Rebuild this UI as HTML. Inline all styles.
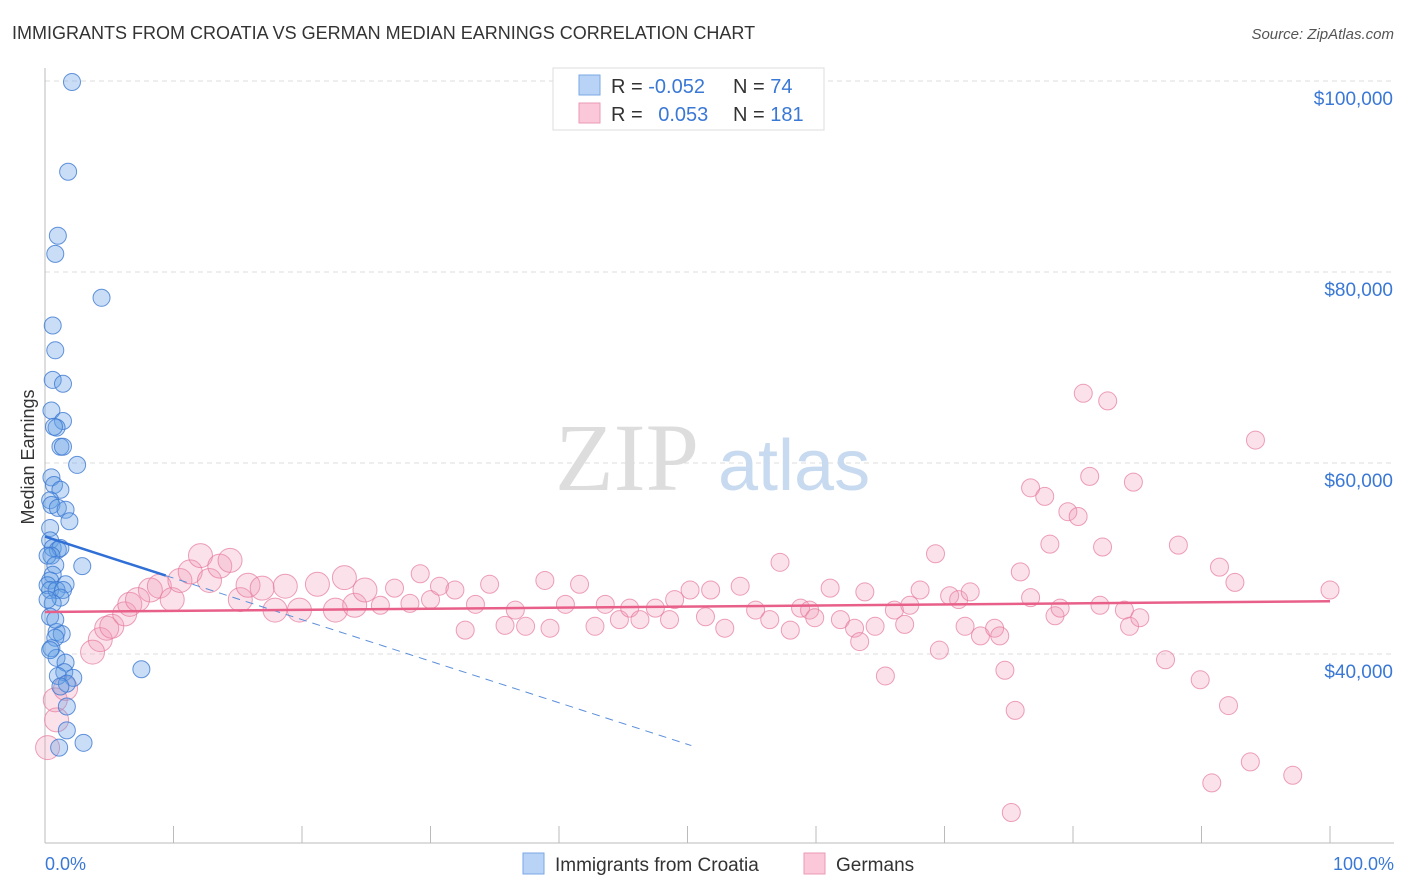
<!DOCTYPE html>
<html><head><meta charset="utf-8"><style>
body{margin:0;background:#fff;font-family:"Liberation Sans",sans-serif}
svg{display:block}
</style></head><body>
<svg id="chart" width="1406" height="892" xmlns="http://www.w3.org/2000/svg" font-family="Liberation Sans, sans-serif">
<text x="12" y="39" font-size="18" fill="#333">IMMIGRANTS FROM CROATIA VS GERMAN MEDIAN EARNINGS CORRELATION CHART</text>
<text x="1394" y="39" font-size="15" fill="#555" text-anchor="end" font-style="italic">Source: ZipAtlas.com</text>
<g id="grid"></g>
<text x="555" y="490" font-size="96" font-family="Liberation Serif, serif" fill="#ddd">ZIP</text>
<text x="718" y="490" font-size="72" fill="#c8daf0">atlas</text>
<line x1="45" y1="843" x2="1394" y2="843" stroke="#bbb"/>
<line x1="45" y1="68" x2="45" y2="843" stroke="#bbb"/>
<g id="xticks"></g>
<g id="yticks"></g>
<text transform="translate(34,457) rotate(-90)" font-size="18" fill="#333" text-anchor="middle">Median Earnings</text>
<text x="45" y="870" font-size="18" fill="#3a78d6">0.0%</text>
<text x="1394" y="870" font-size="18" fill="#3a78d6" text-anchor="end">100.0%</text>
<g id="pink"></g>
<g id="blue"></g>
<g id="trends"></g>
<g>
<rect x="553" y="68" width="271" height="62" fill="#fff" stroke="#ddd"/>
<rect x="579" y="75" width="21" height="20" fill="#b8d3f5" stroke="#7aa8e6"/>
<rect x="579" y="103" width="21" height="20" fill="#fac8d8" stroke="#ea9ab5"/>
<text x="611" y="93" font-size="20" fill="#333">R = <tspan fill="#3a78d6">-0.052</tspan></text>
<text x="733" y="93" font-size="20" fill="#333">N =  <tspan fill="#3a78d6">74</tspan></text>
<text x="611" y="121" font-size="20" fill="#333">R =  <tspan fill="#3a78d6" dx="10">0.053</tspan></text>
<text x="733" y="121" font-size="20" fill="#333">N = <tspan fill="#3a78d6">181</tspan></text>
</g>
<g>
<rect x="523" y="853" width="21" height="21" fill="#b8d3f5" stroke="#7aa8e6"/>
<text x="555" y="871" font-size="19" fill="#333">Immigrants from Croatia</text>
<rect x="804" y="853" width="21" height="21" fill="#fac8d8" stroke="#ea9ab5"/>
<text x="836" y="871" font-size="19" fill="#333">Germans</text>
</g>
</svg>
<script>
const yTickValues=[100000,80000,60000,40000];
const yTickLabels=["$100,000","$80,000","$60,000","$40,000"];
const xTickPcts=[0,10,20,30,40,50,60,70,80,90,100];
const bluePct=[2.1,1.8,1.0,0.8,4.4,0.6,0.8,0.6,1.4,0.5,1.4,0.9,0.7,1.2,1.4,2.5,0.5,0.7,1.2,0.4,0.5,1.0,1.6,1.9,0.4,0.4,0.6,1.0,1.2,0.5,0.2,0.8,2.9,0.6,0.4,0.2,1.6,0.4,0.9,1.4,1.2,0.6,0.4,0.9,1.3,0.8,0.5,0.9,1.6,1.5,1.0,2.2,1.7,1.2,1.7,1.7,3.0,1.1,7.5,0.2,0.8,0.4];
const blueVal=[99900,90500,83800,81900,77300,74400,71800,68700,68300,65500,64400,63700,63800,61700,61700,59800,58500,57700,57200,56100,55600,55300,55100,53900,53200,51900,51100,50900,51100,50300,50300,49300,49200,48300,47700,47200,47300,46700,46700,46700,45900,45300,43900,42300,42100,41700,40600,39600,39100,38100,37700,37500,36900,36600,34500,32000,30700,30200,38400,45700,43600,40400];
const pinkPct=[0.2,0.9,0.8,1.6,4.3,3.7,4.8,5.2,6.2,6.6,8.2,7.2,8.9,9.9,10.5,11.3,12.1,12.8,13.6,14.4,15.2,15.8,16.9,17.9,18.7,19.8,21.2,22.6,23.3,24.1,24.9,26.1,27.2,28.4,29.2,30.0,30.7,31.9,32.7,33.5,34.6,35.8,36.6,37.4,38.9,39.3,40.5,41.6,42.8,43.6,44.7,45.5,46.3,47.5,48.6,49.0,50.2,51.4,51.8,52.9,54.1,55.3,56.4,57.2,58.0,58.8,59.5,59.9,61.1,61.9,63.0,63.4,63.8,64.6,65.4,66.1,66.9,67.3,68.1,69.3,69.6,70.4,71.1,72.0,71.6,72.8,73.9,74.3,74.7,75.5,75.9,76.7,76.7,77.8,78.2,78.6,79.0,79.6,80.4,80.8,81.3,82.1,82.3,82.7,84.0,84.4,84.7,85.2,87.2,88.2,89.9,91.4,92.1,92.6,93.8,94.2,90.8,97.1,75.2,100];
const pinkVal=[30200,33100,35200,36400,41500,40200,42700,42900,44200,45200,46700,45700,47100,45700,47700,48600,50300,47700,49200,49800,45700,47200,46900,44600,47100,44600,47300,44600,48000,45100,46700,45100,46900,45300,48400,45700,47100,46700,42500,45200,47300,43000,44600,42900,47700,42700,45200,47300,42900,45200,43600,44800,43600,44800,43600,45700,46700,43900,46700,42700,47100,44600,43600,49600,42500,44800,44600,43800,46900,43600,42700,41300,46500,42900,37700,44600,43100,45100,46700,50500,40400,46100,45700,46500,42900,41900,42700,41900,38300,34100,48600,45900,57400,56500,51500,44000,44800,54900,54400,67300,58600,45100,51200,66500,44600,42900,58000,43800,39400,51400,37300,49100,34600,47500,28700,62400,26500,27300,23400,46700];
const blueTrend=[52300,-0.052];
const pinkTrend=[44400,0.053];
const NS="http://www.w3.org/2000/svg";
const X=p=>45+p*12.85;
const Y=v=>654-(v-40000)*191/20000;
function mk(tag,attrs,parent){const e=document.createElementNS(NS,tag);for(const k in attrs)e.setAttribute(k,attrs[k]);parent.appendChild(e);return e;}
const grid=document.getElementById('grid'),yt=document.getElementById('yticks'),xt=document.getElementById('xticks');
yTickValues.forEach((v,i)=>{
 const l=mk('line',{x1:45,x2:1394,y1:Y(v),y2:Y(v),stroke:'#ddd','stroke-dasharray':'5,4'},grid);
 
 
 const t=mk('text',{x:1393,y:Y(v)+24,'font-size':19,fill:'#3a78d6','text-anchor':'end'},yt);
 t.textContent=yTickLabels[i];
 
 
});
xTickPcts.forEach(p=>{
 const l=mk('line',{x1:X(p),x2:X(p),y1:826,y2:843,stroke:'#bbb'},xt);
 
 
});
const pg=document.getElementById('pink');
pinkPct.forEach((p,i)=>{
 const r=p<25?12:9;
 const c=mk('circle',{cx:X(p),cy:Y(pinkVal[i]),r:r,fill:'rgba(242,150,180,0.28)',stroke:'rgba(230,120,155,0.7)','stroke-width':1},pg);
 
 
});
const bg=document.getElementById('blue');
bluePct.forEach((p,i)=>{
 const c=mk('circle',{cx:X(p),cy:Y(blueVal[i]),r:8.5,fill:'rgba(100,160,230,0.35)',stroke:'rgba(60,120,210,0.8)','stroke-width':1},bg);
 
 
});
const tg=document.getElementById('trends');
const bY=p=>blueTrend[0]*(1+blueTrend[1]*p*0.16);
const l1=mk('line',{x1:X(0),y1:Y(bY(0)),x2:X(9.4),y2:Y(bY(9.4)),stroke:'#2f6fd6','stroke-width':2.5},tg);


const l2=mk('line',{x1:X(9.4),y1:Y(bY(9.4)),x2:X(50.3),y2:Y(bY(50.3)),stroke:'#5b8fd9','stroke-width':1,'stroke-dasharray':'8,6'},tg);


const pY=p=>pinkTrend[0]*(1+pinkTrend[1]*p*0.0048);
const l3=mk('line',{x1:X(0),y1:Y(pY(0)),x2:X(100),y2:Y(pY(100)),stroke:'#e8608a','stroke-width':2.5},tg);


</script>
</body></html>
